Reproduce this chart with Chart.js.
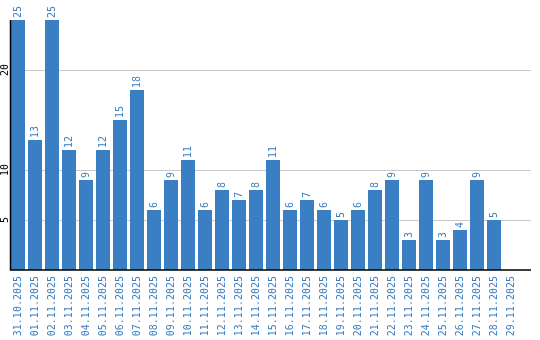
<!DOCTYPE html>
<html><head><meta charset="utf-8">
<script src="https://cdn.jsdelivr.net/npm/chart.js@4/dist/chart.umd.min.js"></script>
<style>html,body{margin:0;padding:0;background:#fff}#w{width:540px;height:340px}</style>
</head><body><div id="w"><canvas id="c" width="540" height="340"></canvas></div>
<script>
const categories = ["31.10.2025","01.11.2025","02.11.2025","03.11.2025","04.11.2025","05.11.2025","06.11.2025","07.11.2025","08.11.2025","09.11.2025","10.11.2025","11.11.2025","12.11.2025","13.11.2025","14.11.2025","15.11.2025","16.11.2025","17.11.2025","18.11.2025","19.11.2025","20.11.2025","21.11.2025","22.11.2025","23.11.2025","24.11.2025","25.11.2025","26.11.2025","27.11.2025","28.11.2025","29.11.2025"];
const values = [25,13,25,12,9,12,15,18,6,9,11,6,8,7,8,11,6,7,6,5,6,8,9,3,9,3,4,9,5,null];
const yTicks = [5,10,20];
const BLUE = '#3a7ec3';
const FONT = '10px "DejaVu Sans Mono"';

const deco = {
  id: 'deco',
  beforeDatasetsDraw(chart) {
    const ctx = chart.ctx, y = chart.scales.y, a = chart.chartArea;
    ctx.save();
    ctx.strokeStyle = '#c8c8c8'; ctx.lineWidth = 1;
    yTicks.forEach(v => {
      const py = Math.round(y.getPixelForValue(v)) + 0.5;
      ctx.beginPath(); ctx.moveTo(11, py); ctx.lineTo(531, py); ctx.stroke();
    });
    ctx.fillStyle = '#000'; ctx.font = FONT;
    ctx.textAlign = 'center'; ctx.textBaseline = 'middle';
    yTicks.forEach(v => {
      const py = y.getPixelForValue(v);
      ctx.save(); ctx.translate(5, py); ctx.rotate(-Math.PI/2);
      ctx.fillText(String(v), 0, 0); ctx.restore();
    });
    ctx.restore();
  },
  afterDatasetsDraw(chart) {
    const ctx = chart.ctx, a = chart.chartArea;
    ctx.save();
    ctx.fillStyle = BLUE; ctx.font = FONT;
    ctx.textAlign = 'left'; ctx.textBaseline = 'middle';
    chart.getDatasetMeta(0).data.forEach((bar, i) => {
      if (values[i] == null) return;
      ctx.save(); ctx.translate(bar.x, bar.y - 2); ctx.rotate(-Math.PI/2);
      ctx.fillText(String(values[i]), 0, 0); ctx.restore();
    });
    ctx.strokeStyle = '#000'; ctx.lineWidth = 1.5;
    ctx.beginPath(); ctx.moveTo(10.5, a.top + 0); ctx.lineTo(10.5, 270); ctx.lineTo(531, 270); ctx.stroke();
    ctx.restore();
  }
};

new Chart(document.getElementById('c'), {
  type: 'bar',
  data: { labels: categories, datasets: [{ data: values, backgroundColor: BLUE, borderWidth: 0, categoryPercentage: 1, barPercentage: 14/17 }] },
  options: {
    responsive: false, animation: false, maintainAspectRatio: false,
    layout: { padding: { left: 9.5, right: 20.5, top: 20, bottom: 0 } },
    plugins: { legend: { display: false }, tooltip: { enabled: false } },
    scales: {
      x: {
        grid: { display: false, drawTicks: false }, border: { display: false },
        ticks: { autoSkip: false, minRotation: 90, maxRotation: 90, color: BLUE, font: { family: 'DejaVu Sans Mono', size: 10 }, padding: 6 },
        afterFit(s) { s.height = 70; }
      },
      y: { display: false, min: 0, max: 25 }
    }
  },
  plugins: [deco]
});
</script></body></html>
